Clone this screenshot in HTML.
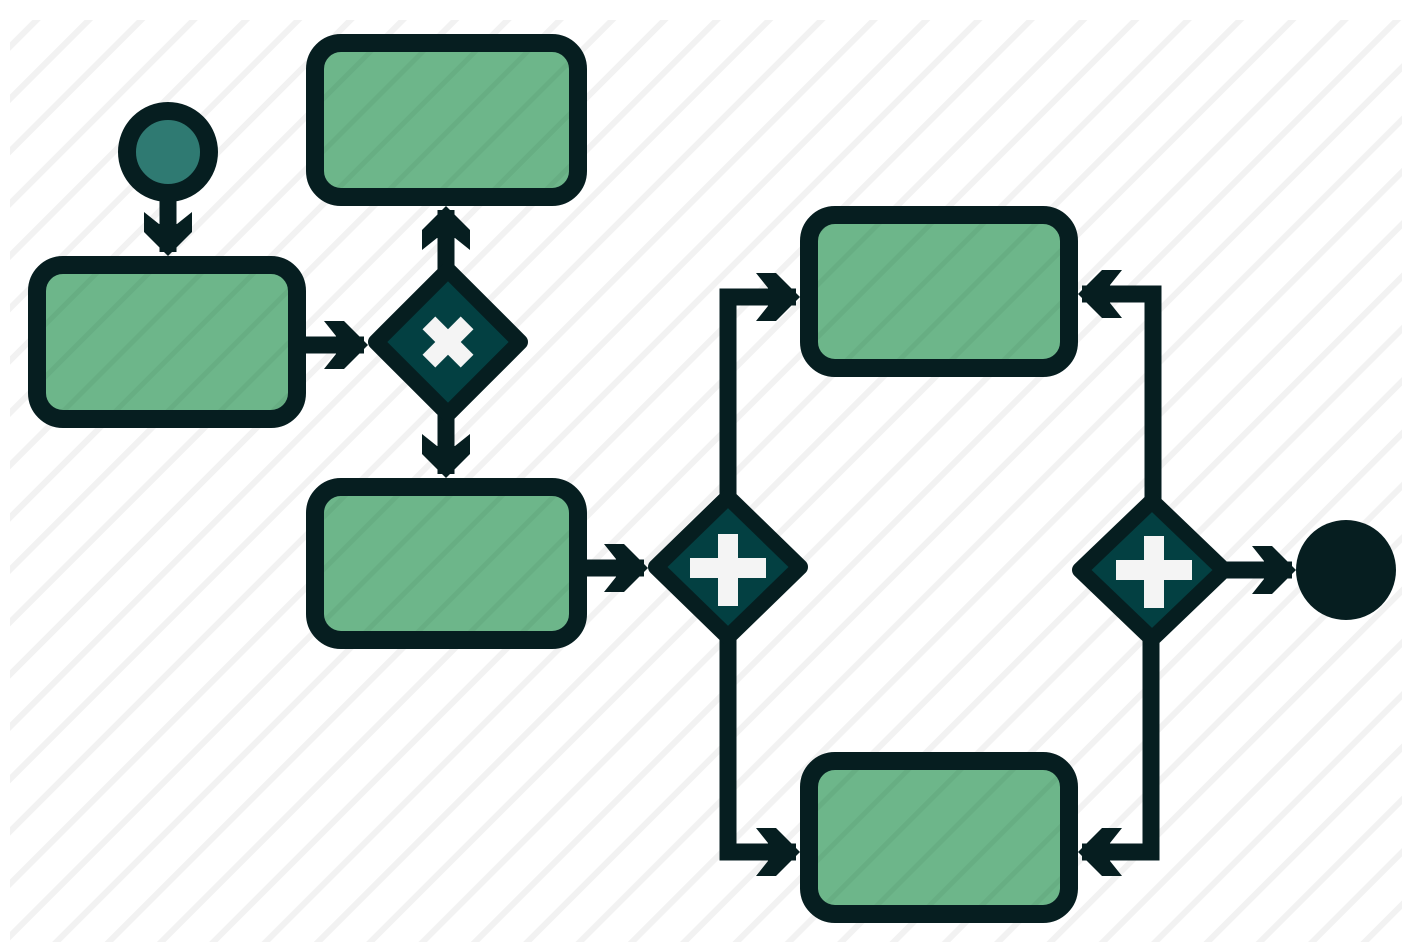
<!DOCTYPE html>
<html><head><meta charset="utf-8"><style>
html,body{margin:0;padding:0;background:#fff;}
svg{display:block;}
</style></head><body>
<svg width="1420" height="952" viewBox="0 0 1420 952" xmlns="http://www.w3.org/2000/svg">
<defs>
<pattern id="st" patternUnits="userSpaceOnUse" width="37" height="37" patternTransform="rotate(45)">
<rect width="37" height="37" fill="#fff"/>
<rect x="0" y="0" width="6" height="37" fill="#f2f2f2"/>
</pattern>
<pattern id="gs" patternUnits="userSpaceOnUse" width="37" height="37" patternTransform="rotate(45)">
<rect width="37" height="37" fill="#6db68a"/>
<rect x="0" y="0" width="5" height="37" fill="#67ae83"/>
</pattern>
<marker id="ah" markerUnits="userSpaceOnUse" markerWidth="90" markerHeight="90" refX="0" refY="0" viewBox="-45 -45 90 90" orient="auto" overflow="visible">
<path d="M4,0 L-20,-24 L-40,-24 L-28,-9 L-28,9 L-40,24 L-20,24 Z" fill="#061e20"/>
</marker>
</defs>
<rect x="10" y="20" width="1392" height="922" fill="url(#st)"/>
<g fill="none" stroke="#061e20" stroke-width="17" stroke-linejoin="miter">
<line x1="168" y1="190" x2="168" y2="252" marker-end="url(#ah)"/>
<line x1="300" y1="345" x2="364" y2="345" marker-end="url(#ah)"/>
<line x1="446" y1="270" x2="446" y2="210" marker-end="url(#ah)"/>
<line x1="446" y1="415" x2="446" y2="474" marker-end="url(#ah)"/>
<line x1="580" y1="568" x2="644" y2="568" marker-end="url(#ah)"/>
<polyline points="728,500 728,297 796,297" marker-end="url(#ah)"/>
<polyline points="728,636 728,852 796,852" marker-end="url(#ah)"/>
<polyline points="1153,500 1153,294 1082,294" marker-end="url(#ah)"/>
<polyline points="1151,640 1151,852 1082,852" marker-end="url(#ah)"/>
<line x1="1225" y1="570" x2="1292" y2="570" marker-end="url(#ah)"/>
</g>
<g stroke="#061e20" stroke-width="18" fill="url(#gs)">
<rect x="37" y="265" width="260" height="154" rx="26"/>
<rect x="315" y="43" width="263" height="154" rx="26"/>
<rect x="315" y="487" width="263" height="153" rx="26"/>
<rect x="809" y="215" width="260" height="153" rx="26"/>
<rect x="809" y="761" width="260" height="153" rx="26"/>
</g>
<circle cx="168" cy="152" r="41" fill="#2f7a72" stroke="#061e20" stroke-width="18"/>
<ellipse cx="1346" cy="570" rx="50" ry="50" fill="#061e20"/>
<g fill="#034042" stroke="#061e20" stroke-width="16" stroke-linejoin="round">
<polygon points="376,342 448,270 520,342 448,414"/>
<polygon points="656,567 728,497 800,567 728,637"/>
<polygon points="1080,570 1152,501 1224,570 1152,639"/>
</g>
<g fill="#f4f4f4">
<g transform="translate(448,342) rotate(45)">
<rect x="-27" y="-9" width="54" height="18"/>
<rect x="-9" y="-27" width="18" height="54"/>
</g>
<rect x="690" y="558" width="76" height="20"/>
<rect x="718" y="534" width="20" height="72"/>
<rect x="1116" y="560" width="76" height="20"/>
<rect x="1144" y="536" width="20" height="72"/>
</g>
</svg>
</body></html>
